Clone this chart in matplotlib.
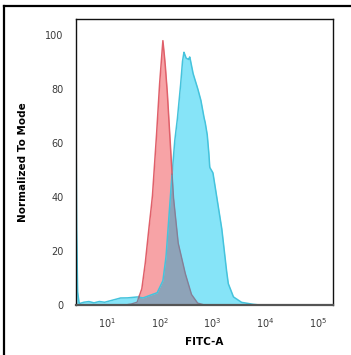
import numpy as np
import matplotlib
matplotlib.use('Agg')
import matplotlib.pyplot as plt
from matplotlib.lines import Line2D

# isotype control (red), log10 of FITC-A vs normalized count
red_logx = [1.30, 1.45, 1.57, 1.66, 1.72, 1.78, 1.81, 1.86, 1.93, 1.99, 2.06, 2.10, 2.14, 2.20, 2.26, 2.35, 2.48, 2.60, 2.72, 2.85]
red_y = [0, 0.3, 1, 6, 14.5, 26, 31, 40, 60, 80, 98, 90, 80, 60, 40, 23, 12, 4, 0.7, 0]

# stained sample (cyan)
cyan_logx = [0.41, 0.42, 0.44, 0.47, 0.55, 0.65, 0.75, 0.85, 0.95, 1.05, 1.15, 1.25, 1.37, 1.47, 1.57, 1.68, 1.80, 1.95, 2.06, 2.12, 2.20, 2.28, 2.33, 2.39, 2.43, 2.46, 2.50, 2.55, 2.57, 2.63, 2.71, 2.78, 2.84, 2.86, 2.90, 2.93, 2.95, 3.01, 3.10, 3.18, 3.26, 3.30, 3.40, 3.55, 3.75, 3.90]
cyan_y = [71, 30, 5, 0.5, 1, 1.3, 0.8, 1.3, 1, 1.5, 2, 2.6, 2.6, 2.8, 3, 2.6, 3.5, 4.5, 9, 18, 40, 60, 68, 80, 90, 93.7, 91.5, 91, 92, 86, 81, 76, 69.5, 68, 63.5, 57, 51, 49, 38, 28, 14, 8, 3, 1, 0.3, 0]

xt = np.linspace(0.41, 3.90, 900)
red_i = np.interp(xt, red_logx, red_y, left=0, right=0)
cyan_i = np.interp(xt, cyan_logx, cyan_y, left=0, right=0)
both = np.minimum(red_i, cyan_i)
xv = 10 ** xt

fig = plt.figure(figsize=(3.51, 3.55), dpi=100)
ax = fig.add_axes([76 / 351, 1 - 305 / 355, (333 - 76) / 351, (305 - 19) / 355])

ax.fill_between(xv, 0, red_i, color='#f7a3a6', lw=0)
ax.fill_between(xv, 0, cyan_i, color='#86e4f8', lw=0)
ax.fill_between(xv, 0, both, color='#8ea3b8', lw=0)
ax.plot(xv, cyan_i, color='#45c3dc', lw=1.1)
red_top = np.ma.masked_where((red_i < cyan_i - 0.5) | (red_i <= 0.2), red_i)
red_in = np.ma.masked_where((red_i > cyan_i + 0.5) | (red_i <= 0.2), red_i)
ax.plot(xv, red_top, color='#e0606a', lw=1.1)
ax.plot(xv, red_in, color='#857f96', lw=1.0)

ax.set_xscale('log')
ax.set_xlim(2.57, 1.95e5)
ax.set_ylim(0, 106)
ax.set_xticks([1e1, 1e2, 1e3, 1e4, 1e5])
ax.set_xticklabels([r'$10^1$', r'$10^2$', r'$10^3$', r'$10^4$', r'$10^5$'])
ax.set_yticks([0, 20, 40, 60, 80, 100])
ax.minorticks_off()
ax.tick_params(length=0, labelsize=7, colors='#3a3a3a', pad=9)
ax.tick_params(axis='x', pad=8)
for s in ax.spines.values():
    s.set_color('#111111')
    s.set_linewidth(1.0)
ax.spines['bottom'].set_color('#555555')
ax.spines['bottom'].set_linewidth(1.6)

ax.set_xlabel('FITC-A', fontsize=7.5, fontweight='bold', labelpad=5)
ax.set_ylabel('Normalized To Mode', fontsize=7.5, fontweight='bold', labelpad=12)

# outer frame of the image
fig.add_artist(Line2D([4 / 351, 1], [1 - 6 / 355, 1 - 6 / 355], transform=fig.transFigure, color='black', lw=1.6))
fig.add_artist(Line2D([4 / 351, 4 / 351], [0, 1 - 6 / 355], transform=fig.transFigure, color='black', lw=1.6))

fig.savefig('out.png', dpi=100)
